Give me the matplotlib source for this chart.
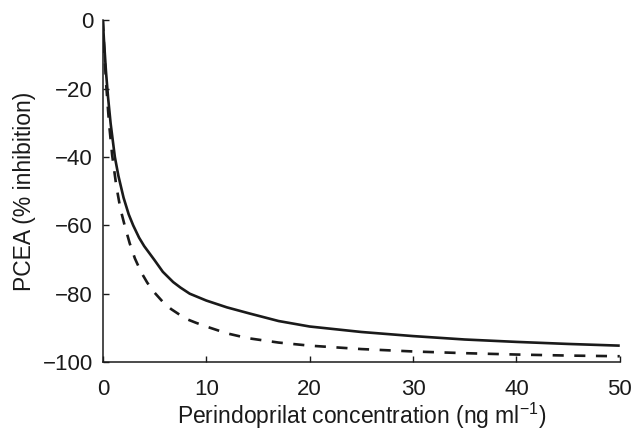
import matplotlib
matplotlib.use("Agg")
import matplotlib.pyplot as plt

plt.rcParams['font.family'] = ['Liberation Sans', 'DejaVu Sans']
plt.rcParams['mathtext.fontset'] = 'custom'
plt.rcParams['mathtext.rm'] = 'Liberation Sans'
plt.rcParams['mathtext.it'] = 'Liberation Sans'

# solid curve
solid_x = [0, 0.1, 0.3, 0.5, 0.75, 1.16, 1.5, 2.0, 2.5, 2.93, 3.5, 4.0, 5.0, 5.8,
           6.8, 7.5, 8.4, 10, 12, 14.2, 17, 20, 25, 30, 35, 40, 45, 50]
solid_y = [0, -5.6, -15, -22.5, -30.2, -40, -45.5, -51.9, -56.8, -60, -63.6, -66.1, -70.2, -73.6,
           -76.6, -78.2, -80, -82, -84, -85.8, -88, -89.6, -91.2, -92.4, -93.4, -94.1, -94.7, -95.2]

# dashed curve
dash_x = [0, 0.1, 0.3, 0.6, 0.9, 1.3, 1.7, 2.13, 2.6, 3.1, 3.7, 4.3, 5.0, 5.8, 6.6,
          7.4, 8.25, 9, 10, 12, 14, 17, 20, 25, 30, 35, 40, 45, 50]
dash_y = [0, -6.8, -17.9, -30.3, -39.5, -48.5, -55.2, -60.3, -65.3, -69.7, -73.7, -76.8, -79.7, -82.4, -84.5,
          -86.1, -87.6, -88.5, -89.6, -91.6, -93, -94.3, -95.2, -96.2, -96.9, -97.4, -97.8, -98.1, -98.3]

xticks = [0, 10, 20, 30, 40, 50]
yticks = [0, -20, -40, -60, -80, -100]

fig = plt.figure(figsize=(6.35, 4.3), dpi=100)
ax = fig.add_axes([0.162, 0.158, 0.814, 0.795])

ink = '#1a1a1a'
ax.plot(solid_x, solid_y, color=ink, lw=1.9, solid_capstyle='butt', solid_joinstyle='round')
ax.plot(dash_x, dash_y, color=ink, lw=1.9, dashes=(4.2, 4.0))

ax.set_xlim(0, 50)
ax.set_ylim(-100, 0)
ax.set_xticks(xticks)
ax.set_yticks(yticks)

for s in ['top', 'right']:
    ax.spines[s].set_visible(False)
for s in ['left', 'bottom']:
    ax.spines[s].set_linewidth(1.1)
    ax.spines[s].set_color(ink)

ax.tick_params(direction='in', length=4, width=1.0, color=ink,
               labelsize=16, labelcolor=ink)
ax.tick_params(axis='x', pad=12)
ax.tick_params(axis='y', pad=7)

ax.set_xlabel('Perindoprilat concentration (ng ml$^{-1}$)', fontsize=16.5, color=ink, labelpad=1)
ax.set_ylabel('PCEA (% inhibition)', fontsize=16.5, color=ink, labelpad=5)

fig.savefig('out.png', dpi=100)
